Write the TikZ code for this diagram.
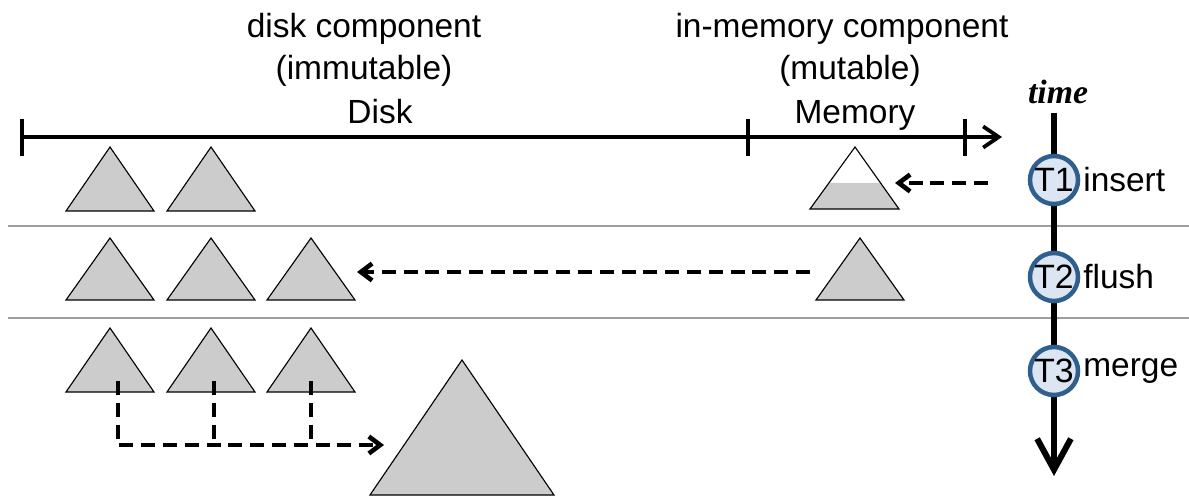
\documentclass[tikz,border=0pt]{standalone}
\usepackage{fontspec}
\setmainfont{Liberation Sans}
\newfontfamily\timefont{Liberation Serif}
\usetikzlibrary{arrows.meta,positioning}
\definecolor{treegray}{gray}{0.8}
\definecolor{tfill}{HTML}{DCE6F2}
\definecolor{tborder}{HTML}{2F5F8F}
\definecolor{sepgray}{gray}{0.62}
\tikzset{
  tree/.style={draw=black, fill=treegray, line width=0.8pt},
  sepline/.style={draw=sepgray, line width=1pt},
  axisline/.style={line width=2.7pt},
  flow/.style={line width=3.3pt, dash pattern=on 10pt off 5.5pt},
  tnode/.style={circle, draw=tborder, fill=tfill, line width=3.2pt, minimum size=1.2cm, inner sep=0pt, font=\fontsize{24}{28}\selectfont},
  lbl/.style={font=\fontsize{23.8}{28}\selectfont, inner sep=0pt},
}
\begin{document}
\begin{tikzpicture}[x=0.025cm, y=-0.025cm]
\useasboundingbox (0,0) rectangle (1189,497);
% rows
\draw[sepline] (8,226) -- (1189,226);
\draw[sepline] (8,318) -- (1189,318);
% disk / memory axis
\coordinate (axl) at (22,137);
\coordinate (axr) at (1002,137);
\draw[axisline, -{Straight Barb[length=11pt, width=15pt]}] (axl) -- (axr);
\foreach \x in {22,748,965} \draw[axisline] (\x,119) -- (\x,156);
\node[lbl, anchor=base] (disk) at (380,124) {Disk};
\node[lbl, anchor=base] (mem) at (855,124) {Memory};
\node[lbl, anchor=base] (diskc) at (364,38) {disk component};
\node[lbl, anchor=base] (diskm) at (364,80) {(immutable)};
\node[lbl, anchor=base] (memc) at (842,38) {in-memory component};
\node[lbl, anchor=base] (memm) at (850,80) {(mutable)};
% trees on disk
\foreach \x in {110,211} \draw[tree] (\x-44,211) -- (\x,147) -- (\x+44,211) -- cycle;
\foreach \x in {110,211,311} \draw[tree] (\x-44,300) -- (\x,238) -- (\x+44,300) -- cycle;
\foreach \x in {110,211,311} \draw[tree] (\x-44,392) -- (\x,328) -- (\x+44,392) -- cycle;
\draw[tree] (370,495) -- (462,360) -- (554,495) -- cycle;
% trees in memory
\fill[treegray] (810,209) -- (829,183) -- (881,183) -- (899,209) -- cycle;
\draw[line width=0.8pt] (810,209) -- (855,147) -- (899,209) -- cycle;
\draw[tree] (816,300) -- (860,238) -- (904,300) -- cycle;
% time axis
\coordinate (timetop) at (1054,113);
\coordinate (timebot) at (1054,476);
\draw[line width=4.3pt, -{Straight Barb[length=22pt, width=24pt]}] (timetop) -- (timebot);
\node[font={\timefont\fontsize{24}{28}\selectfont\bfseries\itshape}, inner sep=0pt, anchor=base] (time) at (1058,104) {time};
\node[tnode] (t1) at (1054,180) {T1};
\node[tnode] (t2) at (1054,277) {T2};
\node[tnode] (t3) at (1054,371) {T3};
\node[lbl, right=2pt of t1] (ins) {insert};
\node[lbl, right=2pt of t2] (fl) {flush};
\node[lbl, right=2pt of t3] (mg) {merge};
% insert
\coordinate (insfrom) at (988,183);
\coordinate (insto) at (895,183);
\draw[flow, -{Straight Barb[length=8pt, width=12pt]}] (insfrom) -- (insto);
% flush
\coordinate (flfrom) at (810,272);
\coordinate (flto) at (357,272);
\draw[flow, -{Straight Barb[length=8pt, width=12pt]}] (flfrom) -- (flto);
% merge
\coordinate (m1) at (118,381);
\coordinate (m2) at (214,381);
\coordinate (m3) at (311,381);
\coordinate (mto) at (384,445);
\draw[flow, -{Straight Barb[length=8pt, width=12pt]}] (m1) |- (mto);
\draw[flow] (m2) -- (m2 |- mto);
\draw[flow] (m3) -- (m3 |- mto);
\end{tikzpicture}
\end{document}
